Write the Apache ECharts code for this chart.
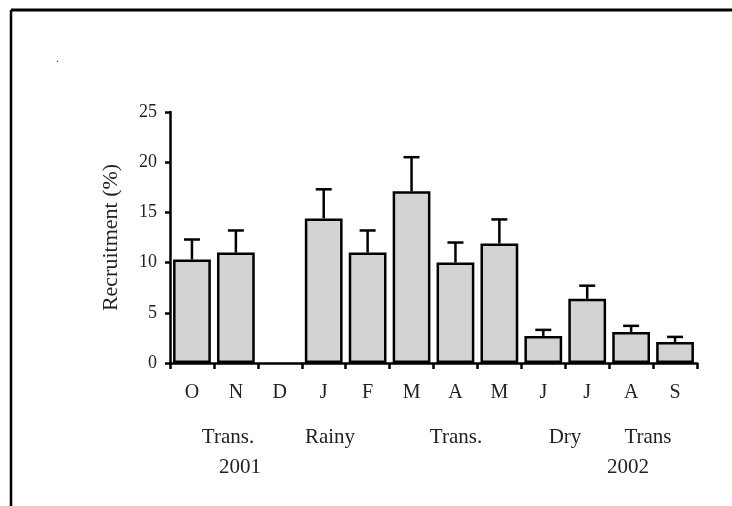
<!DOCTYPE html>
<html><head><meta charset="utf-8">
<script src="https://cdn.jsdelivr.net/npm/echarts@6/dist/echarts.min.js"></script>
<style>html,body{margin:0;padding:0;background:#fff}#c{width:732px;height:506px}</style>
</head><body><div id="c"></div>
<script>
var months = ['O','N','D','J','F','M','A','M','J','J','A','S'];
var means  = [10.3, 11.0, 0, 14.4, 11.0, 17.1, 10.0, 11.9, 2.7, 6.4, 3.1, 2.1];
var upper  = [12.3, 13.2, null, 17.3, 13.2, 20.5, 12.0, 14.3, 3.3, 7.7, 3.7, 2.6];
var yTicks = [0, 5, 10, 15, 20, 25];
var seasons = [['Trans.', 228], ['Rainy', 330], ['Trans.', 456], ['Dry', 565], ['Trans', 648]];
var years = [['2001', 240], ['2002', 628]];
var FONT = '"Liberation Serif", "DejaVu Serif", serif';

var chart = echarts.init(document.getElementById('c'));
var graphics = [
  {type:'line', shape:{x1:11, y1:10, x2:732, y2:10}, style:{stroke:'#000', lineWidth:3}},
  {type:'line', shape:{x1:11, y1:10, x2:11, y2:506}, style:{stroke:'#000', lineWidth:2.5}},
  {type:'text', left:56, top:53, style:{text:'.', font:'12px ' + FONT, fill:'#555'}}
];
seasons.forEach(function(s){
  graphics.push({type:'text', x:s[1], y:437, style:{text:s[0], font:'21px ' + FONT, fill:'#222', align:'center', verticalAlign:'middle'}});
});
years.forEach(function(s){
  graphics.push({type:'text', x:s[1], y:467, style:{text:s[0], font:'21px ' + FONT, fill:'#222', align:'center', verticalAlign:'middle'}});
});

chart.setOption({
  animation:false,
  backgroundColor:'#fff',
  grid:{left:170, right:35, top:112, bottom:143},
  xAxis:{type:'category', data:months,
    axisLine:{lineStyle:{color:'#000', width:2.5}},
    axisTick:{show:true, length:6, lineStyle:{color:'#000', width:2.5}},
    axisLabel:{color:'#222', fontFamily:FONT, fontSize:20, margin:20}},
  yAxis:{type:'value', min:0, max:25, interval:5,
    name:'Recruitment (%)', nameLocation:'middle', nameGap:48,
    nameTextStyle:{color:'#222', fontFamily:FONT, fontSize:22},
    splitLine:{show:false},
    axisLine:{show:true, lineStyle:{color:'#000', width:2.5}},
    axisTick:{show:true, length:5, lineStyle:{color:'#000', width:2.5}},
    axisLabel:{color:'#222', fontFamily:FONT, fontSize:18, margin:13,
      formatter:function(v){ return yTicks.indexOf(v) >= 0 ? String(v) : ''; }}},
  series:[
    {type:'bar', barCategoryGap:'14%',
      data:means.map(function(v){ return v === 0 ? {value:v, itemStyle:{borderWidth:0}} : v; }),
      itemStyle:{color:'#d3d3d3', borderColor:'#000', borderWidth:2.5}},
    {type:'custom', data:months.map(function(m,i){ return [i, means[i], upper[i]]; }),
      z:1,
      renderItem:function(params, api){
        var hi = api.value(2);
        if (hi === null || hi === undefined || isNaN(hi)) return;
        var p0 = api.coord([api.value(0), api.value(1)]);
        var p1 = api.coord([api.value(0), hi]);
        var hw = 8;
        return {type:'group', children:[
          {type:'line', shape:{x1:p0[0], y1:p0[1], x2:p1[0], y2:p1[1]}, style:{stroke:'#000', lineWidth:2.5}},
          {type:'line', shape:{x1:p1[0]-hw, y1:p1[1], x2:p1[0]+hw, y2:p1[1]}, style:{stroke:'#000', lineWidth:2.5}}
        ]};
      }}
  ],
  graphic:graphics
});
</script></body></html>
